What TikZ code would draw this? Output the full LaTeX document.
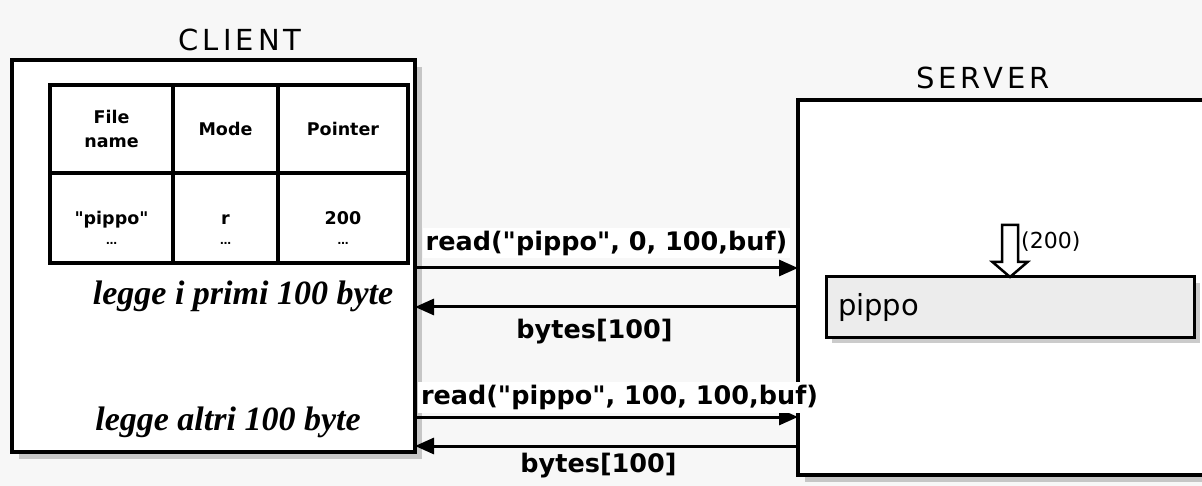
\documentclass[tikz,border=0pt]{standalone}
\usepackage{fontspec}
\setmainfont{Liberation Serif}
\setsansfont{DejaVu Sans}
\newfontfamily\comicfont{DejaVu Sans}
\newfontfamily\titlefont{DejaVu Sans}[LetterSpace=14]
\usetikzlibrary{calc, positioning, arrows.meta, shadows}
\definecolor{pageGrey}{HTML}{F7F7F7}
\definecolor{fileGrey}{HTML}{ECECEC}
\definecolor{shadeGrey}{HTML}{8C8C8C}
\tikzset{
  hostbox/.style = {draw=black, fill=white, line width=4pt, outer sep=0pt,
                    drop shadow={shadow xshift=7pt, shadow yshift=-7pt, fill=shadeGrey, opacity=.45}},
  filebox/.style = {draw=black, fill=fileGrey, line width=3pt, outer sep=0pt,
                    minimum width=368pt, minimum height=60pt, text width=344pt,
                    inner xsep=12pt, align=left, font=\sffamily\fontsize{29}{34}\selectfont,
                    drop shadow={shadow xshift=6pt, shadow yshift=-6pt, fill=shadeGrey, opacity=.45}},
  cell/.style    = {draw=black, line width=3.2pt, outer sep=0pt, align=center, inner sep=2pt,
                    minimum height=88pt, font=\comicfont\bfseries\fontsize{17.5}{24}\selectfont},
  title/.style   = {font=\titlefont\fontsize{29}{34}\selectfont},
  note/.style    = {font=\bfseries\itshape\fontsize{34}{40}\selectfont},
  msg/.style     = {font=\comicfont\bfseries\fontsize{25.5}{30}\selectfont, inner sep=3pt},
  hollow/.style  = {draw=black, fill=white, line width=2.5pt, line join=miter},
  fl/.style      = {-{Triangle[length=19pt, width=16pt]}, draw=black, line width=3pt}
}
\newcommand{\dotsrow}{{\fontsize{11}{12}\selectfont …}}
\newcommand{\cellstrut}{\rule{0pt}{34pt}}

\begin{document}
\begin{tikzpicture}[x=1pt, y=-1pt]
  \useasboundingbox (0,0) rectangle (1202,486);
  \clip (0,0) rectangle (1202,486);
  \fill[pageGrey] (0,0) rectangle (1202,486);

  % client
  \node[hostbox, minimum width=403pt, minimum height=392pt] (client) at (213.5,256) {};
  \node[title] (clienttitle) at (240,40) {CLIENT};
  \node[cell, minimum width=123pt] (fname) at (111.5,129) {File\\name};
  \node[cell, minimum width=105pt, right=0pt of fname] (mode) {Mode};
  \node[cell, minimum width=130pt, right=0pt of mode] (pointer) {Pointer};
  \node[cell, minimum width=123pt, minimum height=90pt, below=0pt of fname] (fval) {\cellstrut"pippo"\\[-4pt]\dotsrow};
  \node[cell, minimum width=105pt, minimum height=90pt, below=0pt of mode] (mval) {\cellstrut r\\[-4pt]\dotsrow};
  \node[cell, minimum width=130pt, minimum height=90pt, below=0pt of pointer] (pval) {\cellstrut 200\\[-4pt]\dotsrow};
  \node[note] (first) at (243,296) {legge i primi 100 byte};
  \node[note] (other) at (228,422) {legge altri 100 byte};

  % server
  \node[hostbox, minimum width=417pt, minimum height=375pt] (server) at (1006.5,287.5) {};
  \node[title] (servertitle) at (983,78) {SERVER};
  \node[filebox] (file) at (1010,307) {pippo};
  \draw[hollow] (file.north) -- ++(-17.5,-15) -- ++(9.5,0) -- ++(0,-37) -- ++(16,0)
    -- ++(0,37) -- ++(9.5,0) -- cycle;
  \node[font=\comicfont\fontsize{22}{26}\selectfont, anchor=west, inner sep=0pt] (offset) at (1021,242) {(200)};

  % messages
  \coordinate (m1) at (0,268);
  \coordinate (m2) at (0,307);
  \coordinate (m3) at (0,417);
  \coordinate (m4) at (0,446);
  \draw[fl] (client.east |- m1) -- (server.west |- m1)
    node[msg, fill=white, midway, above=8pt] (req1) {read("pippo", 0, 100,buf)};
  \draw[fl] (server.west |- m2) -- (client.east |- m2)
    node[msg, midway, below=8pt, xshift=-12pt] (ans1) {bytes[100]};
  \draw[fl] (client.east |- m3) -- (server.west |- m3)
    node[msg, fill=white, midway, above=3pt, xshift=13pt] (req2) {read("pippo", 100, 100,buf)};
  \draw[fl] (server.west |- m4) -- (client.east |- m4)
    node[msg, midway, below=3pt, xshift=-8pt] (ans2) {bytes[100]};
\end{tikzpicture}
\end{document}
